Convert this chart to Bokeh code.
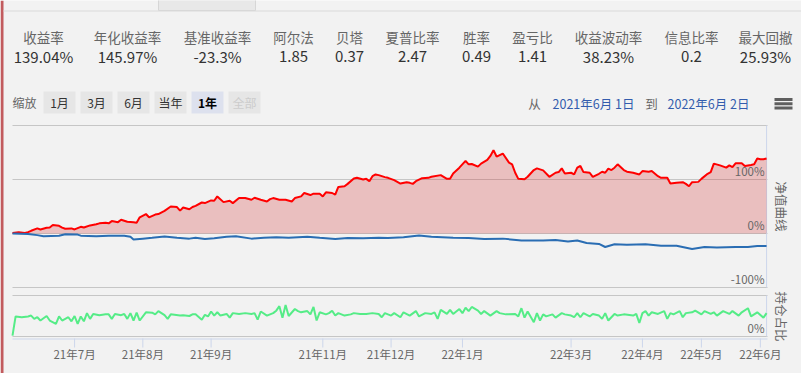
import math
from bokeh.plotting import figure
from bokeh.models import Range1d
from bokeh.embed import file_html
from bokeh.resources import INLINE
from bokeh.core.properties import value

FONT = "Noto Sans CJK SC"

# ---------------- data ----------------
stat_labels = ["收益率", "年化收益率", "基准收益率", "阿尔法", "贝塔", "夏普比率",
               "胜率", "盈亏比", "收益波动率", "信息比率", "最大回撤"]
stat_values = ["139.04%", "145.97%", "-23.3%", "1.85", "0.37", "2.47",
               "0.49", "1.41", "38.23%", "0.2", "25.93%"]
zoom_buttons = ["1月", "3月", "6月", "当年", "1年", "全部"]
date_from = "2021年6月 1日"
date_to = "2022年6月 2日"

# trading-day index of the first session of each labelled month
month_tick_idx = [20, 42, 64, 100, 122, 145, 180, 203, 222, 241]
month_labels = ["21年7月", "21年8月", "21年9月", "21年11月", "21年12月",
                "22年1月", "22年3月", "22年4月", "22年5月", "22年6月"]

# 净值曲线 (strategy, %) as (trading-day index, value)
strategy_pts = [
    (0, 1.0), (2, 2.4), (4, 1.0), (5, 2.4), (6, 5.0), (8, 9.4), (9, 7.5), (11, 10.5),
    (12, 11.0), (13, 15.6), (15, 14.3), (16, 11.0), (17, 8.7), (19, 9.4), (20, 7.5),
    (22, 12.4), (23, 11.0), (25, 15.0), (27, 17.0), (28, 18.8), (30, 20.0), (31, 18.8),
    (32, 23.0), (34, 21.0), (35, 25.5), (37, 21.8), (39, 21.0), (40, 20.0), (41, 30.0),
    (43, 36.0), (44, 30.0), (46, 35.0), (47, 36.0), (49, 42.0), (51, 50.0), (53, 49.0),
    (54, 42.4), (55, 48.0), (57, 45.0), (58, 49.0), (59, 51.2), (61, 57.4), (62, 56.3),
    (64, 61.2), (65, 60.6), (66, 68.7), (68, 58.1), (70, 60.6), (71, 56.3), (73, 65.6),
    (75, 65.6), (77, 62.5), (78, 66.2), (80, 62.5), (82, 59.3), (83, 63.7), (84, 65.6),
    (86, 62.5), (88, 62.5), (90, 59.3), (91, 65.6), (93, 68.7), (94, 75.0), (96, 71.2),
    (97, 73.7), (99, 73.7), (100, 68.7), (101, 76.2), (103, 75.0), (104, 71.8), (105, 86.2),
    (107, 87.5), (108, 91.9), (110, 101.9), (111, 103.1), (113, 100.0), (114, 101.2),
    (115, 96.9), (116, 106.2), (117, 109.4), (118, 108.1), (120, 104.4), (121, 103.1),
    (123, 98.8), (125, 92.5), (127, 95.0), (128, 93.8), (129, 91.9), (130, 96.9),
    (132, 102.5), (134, 103.1), (135, 105.0), (138, 108.1), (140, 101.2), (141, 101.2),
    (142, 111.2), (144, 121.9), (146, 134.4), (147, 128.1), (148, 128.7), (150, 123.8),
    (151, 129.4), (153, 136.2), (154, 143.7), (155, 154.4), (156, 142.5), (158, 148.1),
    (160, 131.2), (161, 128.1), (162, 112.5), (163, 101.2), (165, 100.6), (166, 105.0),
    (168, 117.5), (169, 120.6), (171, 116.9), (173, 105.0), (175, 112.5), (176, 113.7),
    (177, 120.6), (178, 111.2), (180, 112.5), (181, 109.4), (182, 122.0), (183, 125.0),
    (184, 113.7), (186, 112.5), (187, 105.0), (189, 110.6), (190, 114.4), (191, 112.5),
    (192, 120.0), (193, 117.5), (194, 121.9), (195, 128.1), (197, 117.5), (198, 114.4),
    (200, 112.5), (202, 109.4), (203, 115.6), (205, 114.4), (206, 115.6), (208, 106.2),
    (209, 103.1), (211, 103.1), (212, 92.5), (214, 93.8), (216, 95.0), (217, 91.9),
    (218, 87.5), (219, 95.0), (221, 95.6), (222, 101.2), (224, 110.6), (225, 113.7),
    (226, 129.4), (228, 126.2), (230, 121.9), (231, 126.2), (232, 123.1), (233, 130.0),
    (235, 130.0), (236, 125.0), (238, 126.9), (239, 128.1), (240, 138.8), (241, 137.5),
    (242, 137.5), (243, 139.0),
]

# 基准 (benchmark, %)
benchmark_pts = [
    (0, 0.0), (5, -1.0), (8, -3.0), (10, -5.0), (15, -4.0), (17, -1.5), (21, -2.0),
    (22, -4.0), (27, -5.0), (31, -4.0), (36, -4.0), (38, -6.0), (39, -11.0), (42, -9.5),
    (45, -8.0), (49, -5.7), (53, -8.0), (57, -9.5), (59, -8.0), (62, -10.0), (65, -9.0),
    (69, -6.2), (72, -5.0), (77, -9.5), (81, -8.0), (85, -7.0), (89, -8.0), (95, -6.0),
    (99, -8.0), (104, -10.0), (108, -8.5), (113, -9.0), (118, -8.0), (121, -8.5),
    (126, -7.0), (131, -3.8), (135, -6.0), (142, -8.0), (147, -8.5), (152, -10.0),
    (158, -9.5), (164, -13.0), (171, -13.0), (175, -12.0), (179, -15.0), (182, -12.8),
    (185, -17.5), (189, -19.4), (191, -25.0), (194, -20.0), (198, -21.0), (204, -20.0),
    (209, -22.5), (214, -22.5), (219, -28.8), (223, -25.0), (227, -26.0), (233, -25.0),
    (237, -25.0), (240, -23.0), (243, -23.3),
]

# 持仓占比 (position ratio, %)
position_pts = [
    (0, 2), (1, 49), (3, 47), (5, 49), (6, 51), (7, 43), (8, 47), (9, 39), (11, 50),
    (12, 39), (14, 31), (15, 49), (16, 39), (18, 47), (19, 37), (20, 50), (21, 31),
    (22, 49), (23, 37), (24, 57), (25, 43), (26, 55), (28, 52), (30, 54), (31, 54),
    (32, 43), (33, 55), (35, 52), (36, 55), (37, 43), (38, 57), (39, 39), (40, 58),
    (41, 39), (43, 59), (45, 58), (46, 54), (47, 62), (49, 52), (50, 43), (51, 54),
    (54, 51), (55, 52), (57, 50), (58, 54),
    (59, 54), (61, 41), (62, 53), (63, 49), (64, 61), (65, 51), (66, 59), (67, 51),
    (69, 55), (70, 46), (71, 57), (73, 55), (75, 57), (77, 55), (78, 57), (79, 41),
    (80, 61), (82, 51), (84, 57), (85, 63), (86, 74), (87, 46), (88, 77), (89, 50),
    (91, 67), (92, 62), (93, 59), (95, 62), (96, 54), (97, 72), (98, 39), (99, 59),
    (101, 54), (102, 57), (103, 63), (104, 51), (105, 57), (107, 51), (109, 54),
    (110, 57), (112, 55), (114, 55), (116, 57), (118, 55), (119, 47),
    (120, 57), (122, 51), (123, 57), (125, 47), (126, 59), (128, 51), (130, 62),
    (131, 49), (133, 57), (135, 55), (136, 59), (137, 43), (138, 65), (140, 55),
    (141, 65), (142, 55), (144, 67), (145, 57), (146, 70), (147, 62), (148, 72),
    (150, 63), (151, 55), (152, 62), (154, 51), (156, 62), (157, 57), (159, 54),
    (162, 55), (163, 49), (164, 69), (165, 46), (166, 61), (168, 35), (169, 57),
    (170, 39), (171, 54), (172, 49), (174, 54), (175, 46), (177, 57), (178, 54),
    (180, 51), (181, 47),
    (182, 57), (183, 47), (184, 57), (186, 49), (187, 55), (189, 51), (190, 43),
    (191, 57), (192, 39), (194, 55), (195, 51), (197, 54), (200, 51), (201, 55),
    (202, 33), (203, 57), (204, 62), (205, 51), (206, 59), (208, 55), (210, 62),
    (211, 43), (212, 57), (213, 54), (215, 62), (216, 47), (217, 57), (219, 59),
    (220, 63), (222, 54), (223, 62), (225, 55), (226, 59), (227, 51), (229, 62),
    (231, 55), (232, 62), (234, 51), (235, 59), (237, 69), (238, 49), (240, 59),
    (242, 46), (243, 57),
]

upper_ticks = [-100, 0, 100, 200]
upper_label_vals = [-100, 0, 100]
upper_label_text = ["-100%", "0%", "100%"]
lower_ticks = [0, 100]

# ---------------- layout ----------------
# whole canvas is the frame; pixel geometry of the panes:
W, H = 801, 373
PL, PR = 12, 767            # plot left / right in px
X_END = 243.3               # data value at PR
K = (PR - PL) / X_END       # px per trading day
UP_ZERO, UP_K = 233.0, 0.54     # upper pane: px of 0%, px per 1%
LO_ZERO, LO_K = 336.0, 0.41     # lower pane: px of 0%, px per 1%

p = figure(width=W, height=H, output_backend="svg", toolbar_location=None, title=None,
           x_range=Range1d(-PL / K, (W - PL) / K),
           y_range=Range1d((UP_ZERO - H) / UP_K, UP_ZERO / UP_K),
           min_border=0, x_axis_location=None, y_axis_location=None,
           background_fill_color="#f2f2f2", border_fill_color="#f2f2f2",
           outline_line_color=None)
p.grid.visible = False
p.extra_y_ranges = {"pos": Range1d((LO_ZERO - H) / LO_K, LO_ZERO / LO_K),
                    "cy": Range1d(H, 0)}
p.extra_x_ranges = {"cx": Range1d(0, W)}

GRID = "#c6c6c6"
AXIS = "#ccd6eb"
TXT = "#666666"


def px_text(x, y, text, size, color, align="center", angle=0.0, bold=False):
    p.text(x=[x], y=[y], text=[text], x_range_name="cx", y_range_name="cy",
           text_font=value(FONT), text_font_size=size, text_color=color,
           text_align=align, text_baseline="middle", angle=angle,
           text_font_style="bold" if bold else "normal")


def px_box(x0, y0, x1, y1, color, line=None):
    p.quad(left=[x0], right=[x1], top=[y0], bottom=[y1],
           x_range_name="cx", y_range_name="cy",
           fill_color=color, line_color=line if line else None)


# page decorations
px_box(0, 0, 3, H, "#c25b5e")
px_box(158, -1, 255, 10, "#e8e8e8", "#d6d6d6")
px_box(3, 10, W, 11, "#d9d9d9")

# grid lines (upper and lower pane)
p.segment(x0=[0] * len(upper_ticks), x1=[X_END] * len(upper_ticks),
          y0=upper_ticks, y1=upper_ticks, line_color=GRID, line_width=1)
p.segment(x0=[0] * len(lower_ticks), x1=[X_END] * len(lower_ticks),
          y0=lower_ticks, y1=lower_ticks, y_range_name="pos",
          line_color=GRID, line_width=1)
# right axis lines
p.segment(x0=[243], x1=[243], y0=[upper_ticks[0]], y1=[upper_ticks[-1]],
          line_color=AXIS, line_width=1)
p.segment(x0=[243], x1=[243], y0=[lower_ticks[0]], y1=[lower_ticks[-1]],
          y_range_name="pos", line_color=AXIS, line_width=1)

# series
sx = [a for a, b in strategy_pts]
sy = [b for a, b in strategy_pts]
bx = [a for a, b in benchmark_pts]
by = [b for a, b in benchmark_pts]
gx = [a for a, b in position_pts]
gy = [b for a, b in position_pts]

p.varea(x=sx, y1=[0] * len(sx), y2=sy, fill_color="#d22626", fill_alpha=0.25)
p.line(sx, sy, line_color="#ff0000", line_width=2)
p.line(bx, by, line_color="#2a6db3", line_width=2)
p.line(gx, gy, line_color="#55ec87", line_width=2, y_range_name="pos")

# y labels inside plot
p.text(x=[243] * len(upper_label_vals), y=upper_label_vals, text=upper_label_text,
       text_align="right", text_baseline="bottom", x_offset=-2, y_offset=-1,
       text_font=value(FONT), text_font_size="11.5px", text_color=TXT)
p.text(x=[243], y=[0], text=["0%"], y_range_name="pos",
       text_align="right", text_baseline="bottom", x_offset=-2, y_offset=-1,
       text_font=value(FONT), text_font_size="11.5px", text_color=TXT)

# x axis (line, ticks, labels) at the month-start indices
p.segment(x0=[0], x1=[X_END], y0=[338.5], y1=[338.5], y_range_name="cy",
          line_color=AXIS, line_width=1)
p.segment(x0=month_tick_idx, x1=month_tick_idx, y0=[338] * len(month_tick_idx),
          y1=[347] * len(month_tick_idx), y_range_name="cy", line_color=AXIS, line_width=1)
p.text(x=month_tick_idx, y=[353.5] * len(month_tick_idx), text=month_labels,
       y_range_name="cy", text_align="center", text_baseline="middle",
       text_font=value(FONT), text_font_size="11.5px", text_color=TXT)

# stats row
stat_x = [43, 127, 217, 293, 349, 412, 476, 532, 608, 691, 765]
for x, l, v in zip(stat_x, stat_labels, stat_values):
    px_text(x, 36, l, "13.5px", TXT)
    px_text(x, 56, v, "15px", "#333333")

# zoom buttons
px_text(24, 102, "缩放", "12px", TXT)
btn_x = [43, 80, 117, 154, 191, 228]
for x, t in zip(btn_x, zoom_buttons):
    sel = (t == "1年")
    dis = (t == "全部")
    px_box(x, 91, x + 32, 113, "#dde1ee" if sel else "#e6e6e6")
    px_text(x + 16, 102, t, "12px", "#cccccc" if dis else ("#000000" if sel else "#333333"), bold=sel)

# date range
px_text(534, 103, "从", "12.5px", TXT)
px_text(593, 103, date_from, "12.5px", "#335cad")
px_text(651, 103, "到", "12.5px", TXT)
px_text(708, 103, date_to, "12.5px", "#335cad")
px_box(774, 97.5, 792, 100.5, "#5f5f5f")
px_box(774, 101.8, 792, 104.8, "#5f5f5f")
px_box(774, 106, 792, 109, "#5f5f5f")

# axis titles
px_text(781, 206, "净值曲线", "12.5px", TXT, angle=-math.pi / 2)
px_text(781, 316, "持仓占比", "12.5px", TXT, angle=-math.pi / 2)

open("out.html", "w").write(file_html(p, INLINE))
